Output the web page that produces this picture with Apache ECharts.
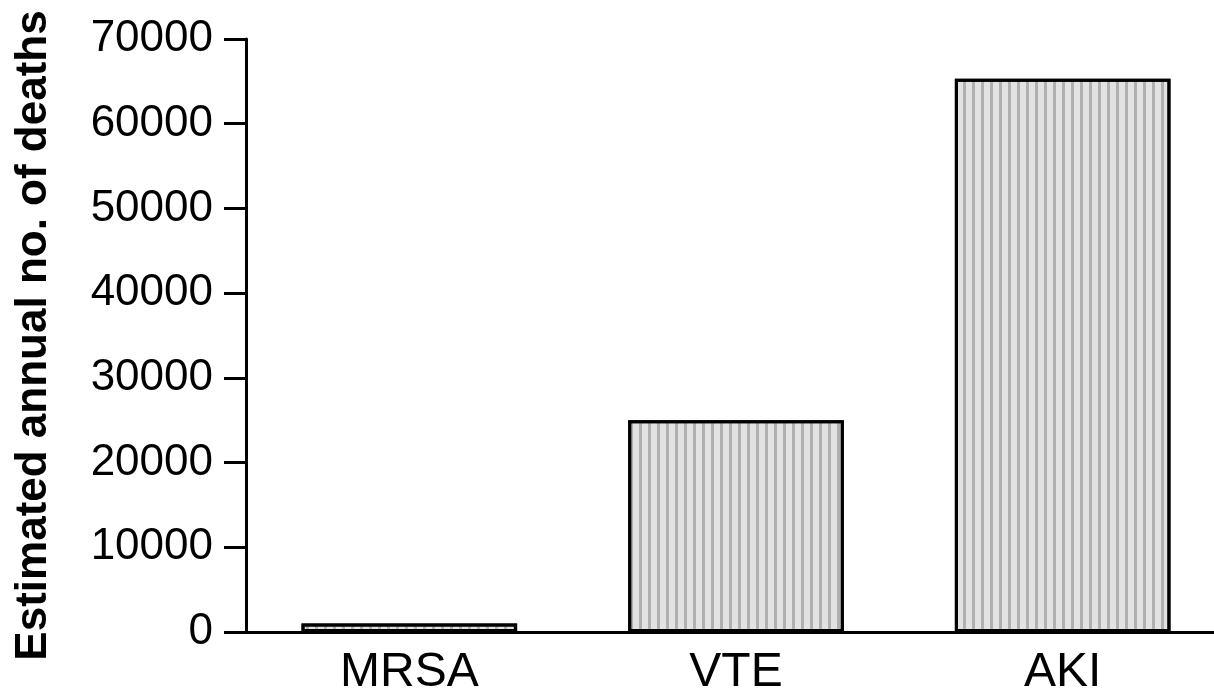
<!DOCTYPE html>
<html>
<head>
<meta charset="utf-8">
<script src="https://cdn.jsdelivr.net/npm/echarts@6/dist/echarts.min.js"></script>
<style>
  html, body { margin: 0; padding: 0; background: #fff; }
  #chart { width: 1214px; height: 695px; }
</style>
</head>
<body>
<div id="chart"></div>
<script>
const categories = ['MRSA', 'VTE', 'AKI'];
const deaths = [1000, 25000, 65300];
const yTicks = [0, 10000, 20000, 30000, 40000, 50000, 60000, 70000];

const chart = echarts.init(document.getElementById('chart'));

chart.setOption({
  animation: false,
  textStyle: { fontFamily: 'Liberation Sans, Arial, sans-serif' },
  grid: { left: 246, top: 39, width: 980, height: 593, outerBoundsMode: 'none', containLabel: false },
  xAxis: {
    type: 'category',
    data: categories,
    axisLine: { lineStyle: { color: '#000', width: 3 } },
    axisTick: { show: false },
    axisLabel: { color: '#000', fontSize: 48, margin: 17 }
  },
  yAxis: {
    type: 'value',
    min: yTicks[0],
    max: yTicks[yTicks.length - 1],
    interval: 10000,
    name: 'Estimated annual no. of deaths',
    nameLocation: 'middle',
    nameGap: 190,
    nameTextStyle: { color: '#000', fontSize: 44, fontWeight: 'bold' },
    axisLine: { show: true, lineStyle: { color: '#000', width: 3 } },
    axisTick: { show: true, length: 22, lineStyle: { color: '#000', width: 3 } },
    axisLabel: { color: '#000', fontSize: 44, margin: 33, formatter: v => String(v) },
    splitLine: { show: false }
  },
  series: [{
    type: 'bar',
    data: deaths,
    barWidth: '66%',
    itemStyle: {
      color: '#e2e2e2',
      borderColor: '#000',
      borderWidth: 3,
      decal: {
        symbol: 'rect',
        symbolSize: 1,
        dashArrayX: [3, 6],
        dashArrayY: [1, 0],
        color: 'rgba(0,0,0,0.22)'
      }
    }
  }]
});
</script>
</body>
</html>
